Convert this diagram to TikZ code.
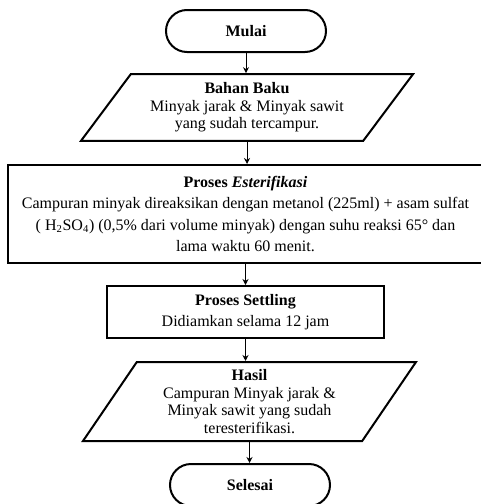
\documentclass[tikz,border=0pt]{standalone}
\usepackage{fontspec}
\setmainfont{Liberation Serif}
\usetikzlibrary{shapes.geometric,arrows.meta}
\begin{document}
\begin{tikzpicture}[x=0.75pt,y=-0.75pt,font=\fontsize{12}{15.8}\selectfont]
\tikzstyle{terminal}=[draw,line width=1.5pt,rounded corners=15.75pt,minimum width=120pt,minimum height=31.5pt,font=\fontsize{12}{14}\selectfont\bfseries]
\tikzstyle{io}=[draw,line width=1.5pt,trapezium,trapezium stretches body,trapezium left angle=45,trapezium right angle=135,minimum width=249pt,minimum height=50pt,align=center,inner sep=0pt,font=\fontsize{12}{13.2}\selectfont]
\tikzstyle{proses}=[draw,line width=1.5pt,rectangle,align=center,inner sep=0pt]
\tikzstyle{flow}=[-{Stealth[length=4.5pt,width=4.5pt]},line width=0.75pt]
\clip (0,0) rectangle (481,504);
\node[terminal] (mulai) at (246,31) {Mulai};
\node[io] (bahan) at (247,107.5) {\textbf{Bahan Baku}\\Minyak jarak \& Minyak sawit\\yang sudah tercampur.};
\node[proses,minimum width=356.25pt,minimum height=73.5pt] (ester) at (245.5,214)
  {\textbf{Proses \textit{Esterifikasi}}\\Campuran minyak direaksikan dengan metanol (225ml) + asam sulfat\\( H\textsubscript{2}SO\textsubscript{4}) (0,5\% dari volume minyak) dengan suhu reaksi 65° dan\\lama waktu 60 menit.};
\node[proses,minimum width=207.75pt,minimum height=39pt] (settling) at (245.5,312) {\textbf{Proses Settling}\\Didiamkan selama 12 jam};
\node[io,trapezium left angle=50,trapezium right angle=130,minimum width=249.75pt,minimum height=59.25pt] (hasil) at (249.5,401.5)
  {\textbf{Hasil}\\Campuran Minyak jarak \&\\Minyak sawit yang sudah\\teresterifikasi.};
\node[terminal] (selesai) at (250,485) {Selesai};
\foreach \a/\b in {mulai/bahan,bahan/ester,ester/settling,settling/hasil,hasil/selesai}
	\draw[flow] (\a.south) -- (\a.south |- \b.north);
\end{tikzpicture}
\end{document}
